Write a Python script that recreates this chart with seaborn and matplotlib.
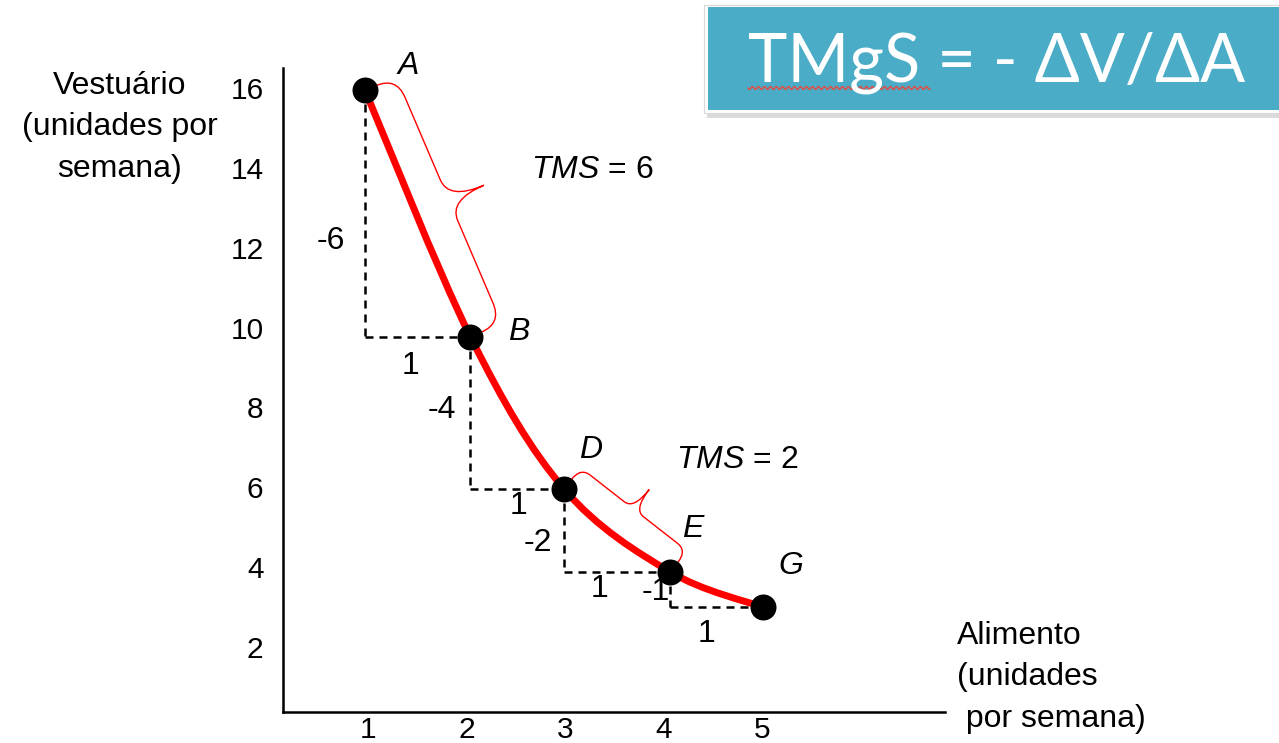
import numpy as np
import pandas as pd
import seaborn as sns
import matplotlib.pyplot as plt
from matplotlib.path import Path
from matplotlib.patches import PathPatch, Rectangle
from matplotlib.lines import Line2D

sns.set_style("white")
plt.rcParams['font.family'] = ['Liberation Sans', 'DejaVu Sans']
plt.rcParams['mathtext.fontset'] = 'custom'
plt.rcParams['mathtext.rm'] = 'Liberation Sans'
plt.rcParams['mathtext.it'] = 'Liberation Sans:italic'
plt.rcParams['text.color'] = 'black'

# points on the indifference curve
point_names = ["A", "B", "D", "E", "G"]
alimento = [0.97, 2.04, 2.99, 4.07, 5.01]
vestuario = [15.94, 9.77, 5.96, 3.88, 3.0]
# step labels (change in V and change in A)
dv_labels = ["-6", "-4", "-2", "-1"]
da_labels = ["1", "1", "1", "1"]
tms_values = ["6", "2"]
x_ticks = [1, 2, 3, 4, 5]
y_ticks = [2, 4, 6, 8, 10, 12, 14, 16]

df = pd.DataFrame({"ponto": point_names, "alimento": alimento, "vestuario": vestuario})

FS = 23
W, H = 1279, 743
fig = plt.figure(figsize=(W / 100, H / 100), dpi=100)
ax = fig.add_axes([283 / W, 31 / H, 662 / W, 644 / H])
ax.set_xlim(0.137, 6.858)
ax.set_ylim(0.375, 16.5)

sns.despine(ax=ax)
for s in ["left", "bottom"]:
    ax.spines[s].set_color("black")
    ax.spines[s].set_linewidth(1.8)
ax.set_xticks(x_ticks)
ax.set_yticks(y_ticks)
ax.tick_params(axis="both", length=0, labelsize=21.5, labelcolor="black")
ax.tick_params(axis="x", pad=3)
ax.tick_params(axis="y", pad=14)

# smooth red curve through the points (Catmull-Rom as cubic Bezier)
pts = df[["alimento", "vestuario"]].to_numpy()
ext = np.vstack([pts[0], pts, pts[-1]])
verts = [pts[0]]
codes = [Path.MOVETO]
for i in range(len(pts) - 1):
    p0, p1, p2, p3 = ext[i], ext[i + 1], ext[i + 2], ext[i + 3]
    verts += [p1 + (p2 - p0) / 6, p2 - (p3 - p1) / 6, p2]
    codes += [Path.CURVE4] * 3
ax.add_patch(PathPatch(Path(verts, codes), fill=False, edgecolor="red",
                       lw=5, capstyle="round", zorder=3))

# dashed steps
for i in range(len(pts) - 1):
    x0, y0 = pts[i]
    x1, y1 = pts[i + 1]
    ax.plot([x0, x0], [y0, y1], color="black", lw=1.8, dashes=(3.2, 2.4), zorder=2)
    ax.plot([x0, x1], [y1, y1], color="black", lw=1.8, dashes=(3.2, 2.4), zorder=2)

sns.scatterplot(data=df, x="alimento", y="vestuario", s=300, color="black",
                edgecolor="black", zorder=4, ax=ax, legend=False)
ax.set_xlabel("")
ax.set_ylabel("")

# point names
name_off = [(43, 24), (48, 5), (27, 39), (22, 43), (28, 41)]
for (nm, px, py), off in zip(df[["ponto", "alimento", "vestuario"]].to_numpy(), name_off):
    ax.annotate(nm, (px, py), xytext=off, textcoords="offset pixels",
                ha="center", va="center", fontsize=FS, style="italic")

# step labels
v_off = [(-34, -27), (-29, 3), (-26, -13), (-15, -2)]
h_off = [(-7, -29), (1, -17), (-18, -17), (-10, -27)]
for i in range(len(pts) - 1):
    x0, y0 = pts[i]
    x1, y1 = pts[i + 1]
    ax.annotate(dv_labels[i], (x0, (y0 + y1) / 2), xytext=v_off[i], textcoords="offset pixels",
                ha="center", va="center", fontsize=FS)
    ax.annotate(da_labels[i], ((x0 + x1) / 2, y1), xytext=h_off[i], textcoords="offset pixels",
                ha="center", va="center", fontsize=FS)


def brace(i0, i1, h1, h2, r):
    a = ax.transData.transform(pts[i0])
    b = ax.transData.transform(pts[i1])
    L = np.hypot(*(b - a))
    d = (b - a) / L
    n = np.array([-d[1], d[0]])
    a = a + 12 * n
    b = b + 12 * n
    m = L / 2
    local = [(0, 0), (0, h1), (r, h1), (m - r, h1), (m, h1), (m, h2),
             (m, h1), (m + r, h1), (L - r, h1), (L, h1), (L, 0)]
    cds = [Path.MOVETO, Path.CURVE3, Path.CURVE3, Path.LINETO, Path.CURVE3, Path.CURVE3,
           Path.CURVE3, Path.CURVE3, Path.LINETO, Path.CURVE3, Path.CURVE3]
    disp = np.array([a + u * d + v * n for u, v in local])
    dat = ax.transData.inverted().transform(disp)
    ax.add_patch(PathPatch(Path(dat, cds), fill=False, edgecolor="red", lw=1, zorder=3))


brace(0, 1, 22, 60, 22)
brace(2, 3, 15, 40, 12)

ax.text(3.28, 13.95, "$TMS$ = " + tms_values[0], ha="center", va="center", fontsize=FS)
ax.text(4.75, 6.69, "$TMS$ = " + tms_values[1], ha="center", va="center", fontsize=FS)

# axis titles
fig.text(120 / W, 1 - 71 / H, "Vestuário\n(unidades por\nsemana)", ha="center", va="top",
         multialignment="center", fontsize=FS, linespacing=1.5)
fig.text(957 / W, 1 - 621 / H, "Alimento\n(unidades\n por semana)", ha="left", va="top",
         fontsize=FS, linespacing=1.5)

# formula box
fig.add_artist(Rectangle((707 / W, 1 - 118 / H), (W - 707) / W, 110 / H,
                         transform=fig.transFigure, facecolor="#9a9a9a", alpha=0.35, lw=0))
fig.add_artist(Rectangle((704 / W, 1 - 113 / H), (W - 704) / W, 108 / H,
                         transform=fig.transFigure, facecolor="white", edgecolor="#d8d8d8", lw=0.8))
fig.add_artist(Rectangle((708 / W, 1 - 110 / H), (W - 708) / W, 103 / H,
                         transform=fig.transFigure, facecolor="#4aacc6", lw=0))
fig.text(748 / W, 1 - 82 / H, "TMgS = - ΔV/ΔA", color="white", fontsize=48,
         family=["Lato", "Open Sans", "DejaVu Sans"], va="baseline", ha="left")
sq = Line2D([748 / W, 930 / W], [1 - 88 / H, 1 - 88 / H], transform=fig.transFigure,
            color="#d9534f", lw=1.2)
sq.set_sketch_params(scale=1.5, length=6, randomness=1)
fig.add_artist(sq)

fig.savefig("out.png", dpi=100)
